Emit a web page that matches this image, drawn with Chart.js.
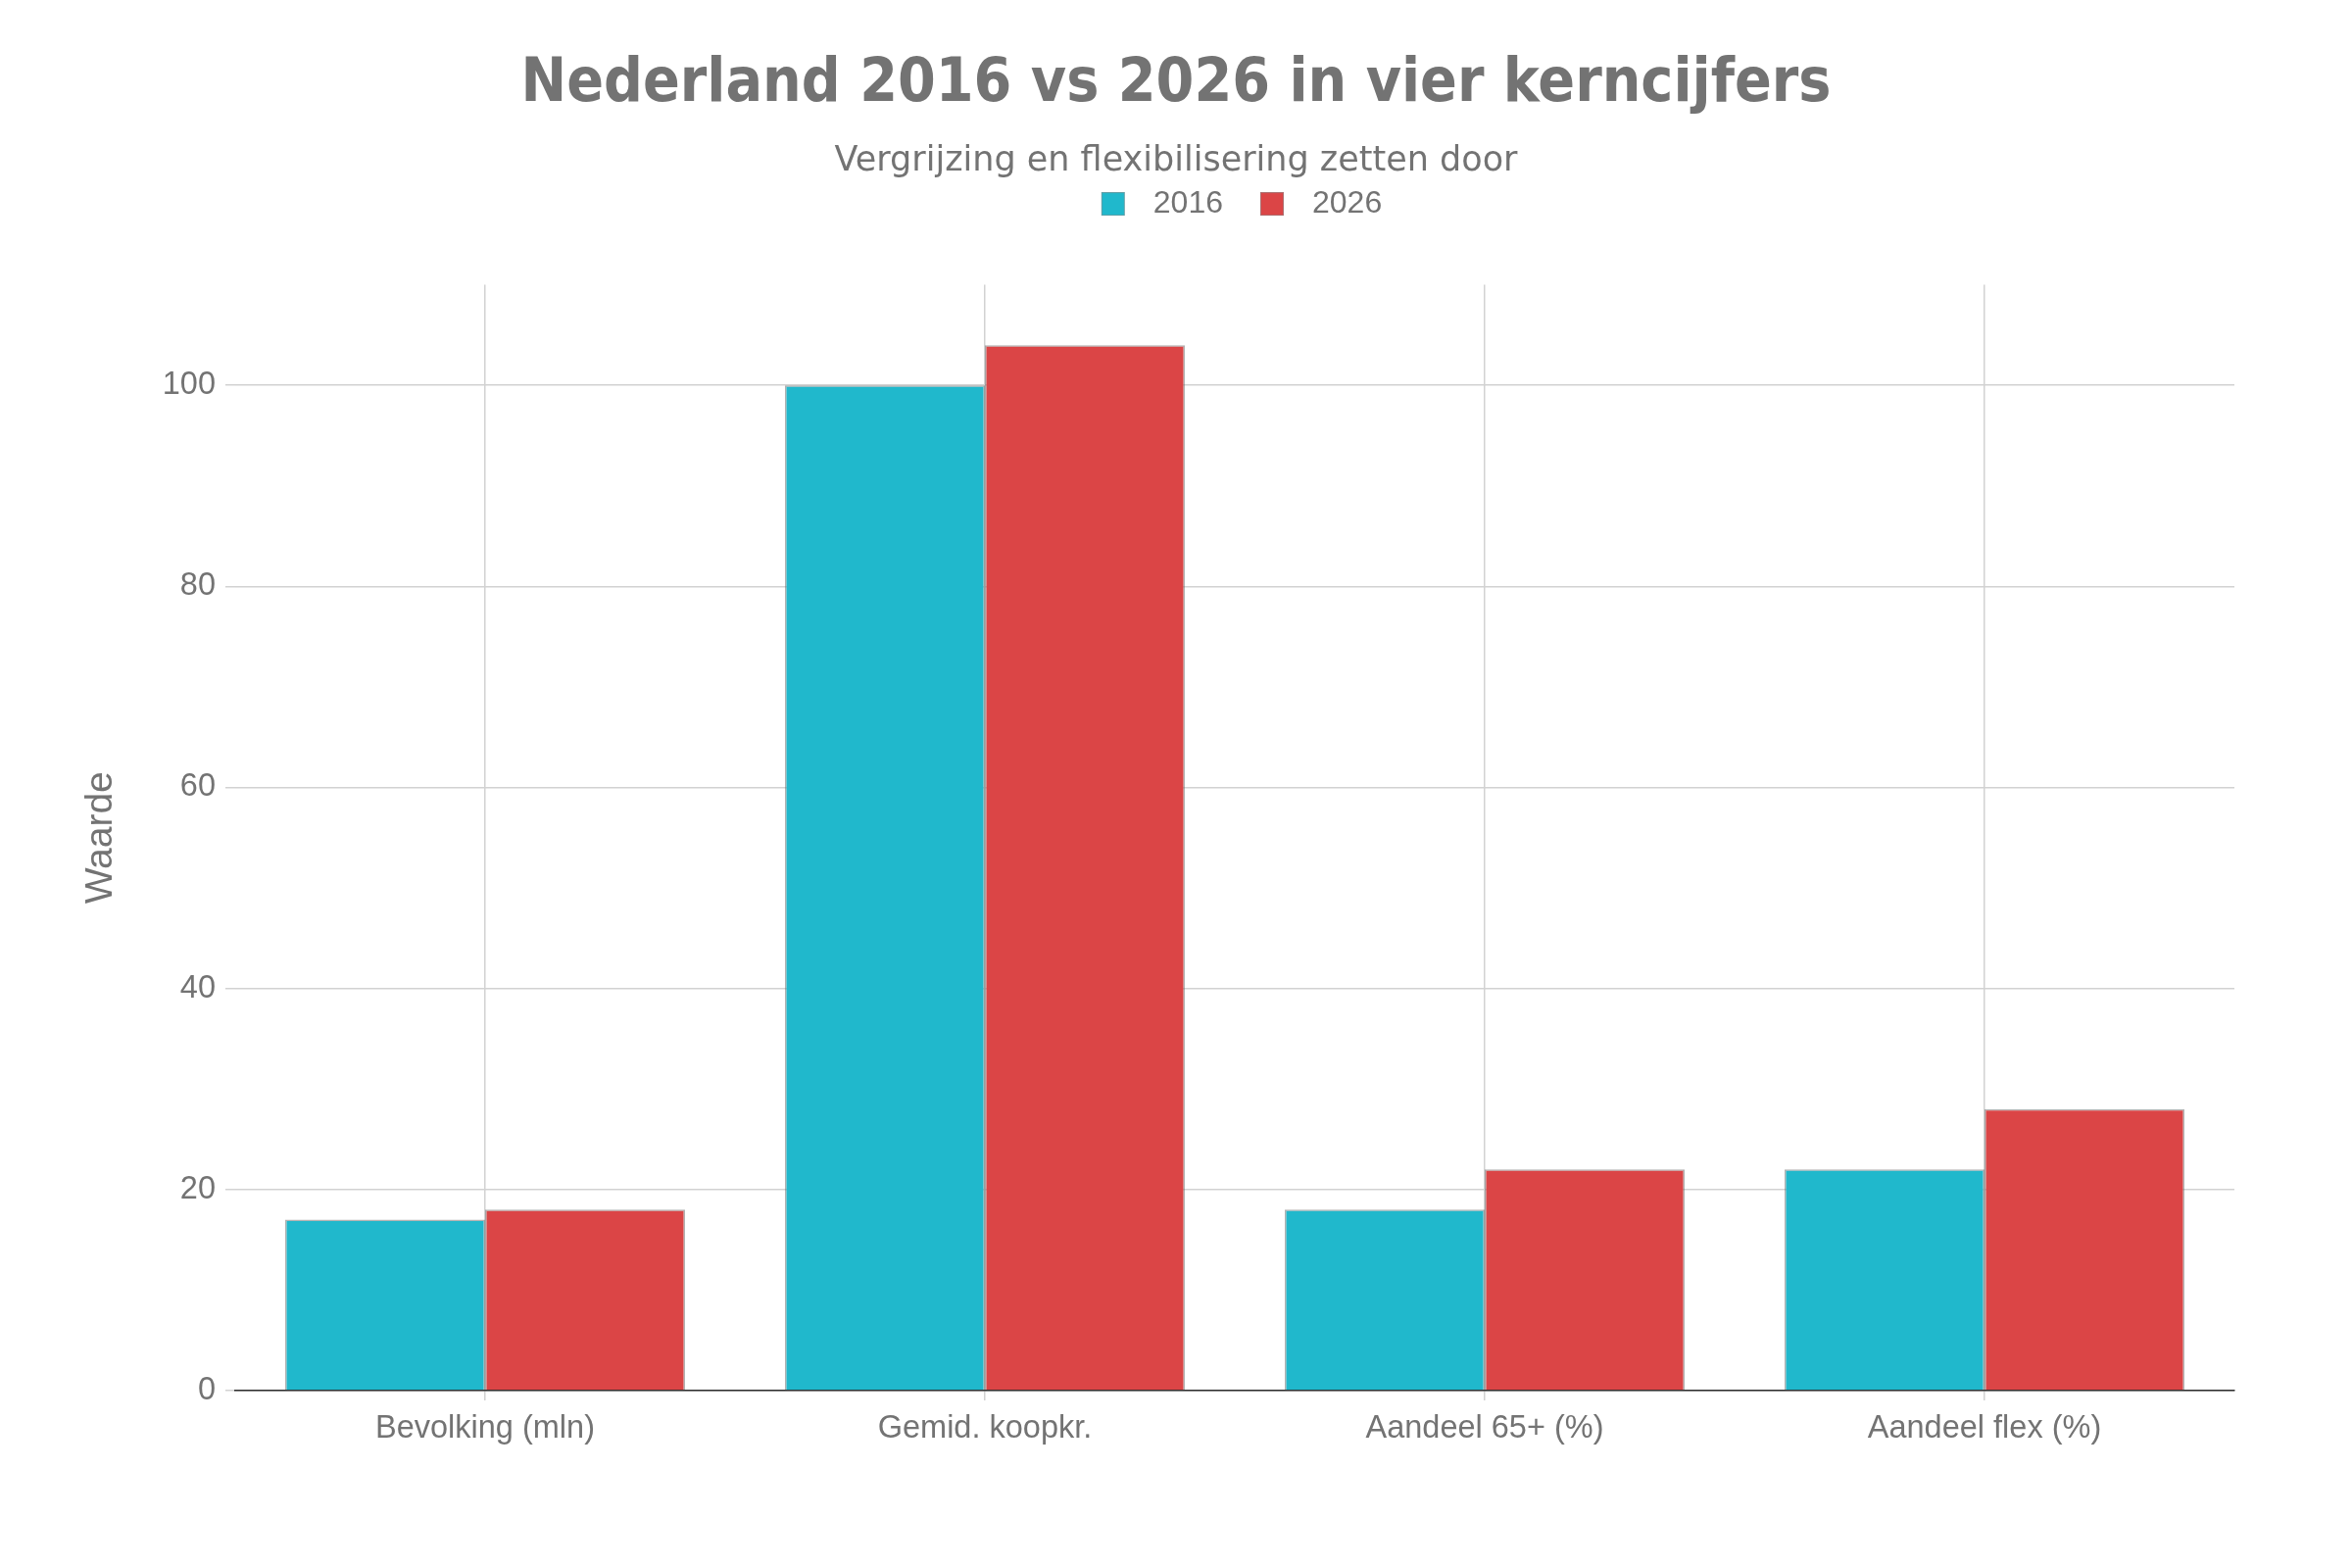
<!DOCTYPE html>
<html>
<head>
<meta charset="utf-8">
<script src="https://cdn.jsdelivr.net/npm/chart.js@4.4.1/dist/chart.umd.min.js"></script>
<style>
  html, body { margin: 0; padding: 0; background: #fff; }
  #wrap { width: 2400px; height: 1600px; }
</style>
</head>
<body>
<div id="wrap"><canvas id="kerncijfers"></canvas></div>
<script>
// Data
const categories = ['Bevolking (mln)', 'Gemid. koopkr.', 'Aandeel 65+ (%)', 'Aandeel flex (%)'];
const seriesNames = ['2016', '2026'];
const values2016 = [17, 100, 18, 22];
const values2026 = [18, 104, 22, 28];
const yMax = 110;
const yStep = 20;

const colors = ['#20b8cc', '#db4546'];
const edge = 'rgba(100, 100, 100, 0.5)';
const textGrey = '#737373';
const sansFont = '"Liberation Sans", Arial, sans-serif';

// legend swatch with some blank room before and after the square
function makeSwatch(fill) {
    const c = document.createElement('canvas');
    c.width = 51;
    c.height = 24;
    const g = c.getContext('2d');
    g.fillStyle = fill;
    g.fillRect(14, 0, 24, 24);
    g.strokeStyle = 'rgba(140, 140, 140, 0.6)';
    g.lineWidth = 1;
    g.strokeRect(14.5, 0.5, 23, 23);
    return c;
}
const swatches = colors.map(makeSwatch);

// extra room below the legend, before the plot area starts
const legendGap = {
    id: 'legendGap',
    afterInit(chart) {
        const fit = chart.legend.fit;
        chart.legend.fit = function () {
            fit.call(this);
            this.height += 56.5;
        };
    }
};

// titles centred on the canvas, legend centred on the plot area
const centring = {
    id: 'centring',
    afterLayout(chart) {
        chart.boxes.forEach(box => {
            if (box === chart.legend) {
                box.left = chart.chartArea.left;
                box.right = chart.chartArea.right;
            } else if (box.position === 'top' && box.options && box.options.text) {
                box.left = 0;
                box.right = chart.width;
            }
        });
    }
};

const ctx = document.getElementById('kerncijfers').getContext('2d');

new Chart(ctx, {
    type: 'bar',
    data: {
        labels: categories,
        datasets: [{
            label: seriesNames[0],
            data: values2016,
            backgroundColor: colors[0],
            borderColor: edge,
            borderWidth: 1.5,
        }, {
            label: seriesNames[1],
            data: values2026,
            backgroundColor: colors[1],
            borderColor: edge,
            borderWidth: 1.5,
        }]
    },
    options: {
        responsive: true,
        maintainAspectRatio: false,
        devicePixelRatio: 1,
        animation: false,
        categoryPercentage: 0.8,
        barPercentage: 1.0,
        layout: {
            padding: { top: 0, left: 40, right: 120, bottom: 112 }
        },
        scales: {
            x: {
                grid: {
                    offset: false,
                    color: '#d2d2d2',
                    lineWidth: 1.5,
                    tickLength: 10,
                },
                border: { display: true, color: '#2e2e2e', width: 1.5 },
                ticks: {
                    color: textGrey,
                    padding: 10,
                    font: { family: sansFont, size: 32.5 }
                }
            },
            y: {
                min: 0,
                max: yMax,
                grid: {
                    color: '#d2d2d2',
                    lineWidth: 1.5,
                    tickLength: 10,
                },
                border: { display: false },
                ticks: {
                    stepSize: yStep,
                    includeBounds: false,
                    color: textGrey,
                    padding: 10,
                    font: { family: sansFont, size: 32.5 }
                },
                title: {
                    display: true,
                    text: 'Waarde',
                    color: textGrey,
                    padding: { top: 39.6, bottom: 0 },
                    font: { family: sansFont, size: 39 }
                },
                afterFit(scale) {
                    scale.width = 200;
                }
            }
        },
        plugins: {
            title: {
                display: true,
                text: 'Nederland 2016 vs 2026 in vier kerncijfers',
                color: textGrey,
                padding: { top: 50, bottom: 0 },
                font: { family: '"DejaVu Sans Condensed", "DejaVu Sans", sans-serif', size: 62, weight: 'bold', lineHeight: 1.2 }
            },
            subtitle: {
                display: true,
                text: 'Vergrijzing en flexibilisering zetten door',
                color: textGrey,
                padding: { top: 36.7, bottom: 0 },
                font: { family: '"DejaVu Sans", sans-serif', size: 35, lineHeight: 0.2 }
            },
            legend: {
                display: true,
                position: 'top',
                labels: {
                    color: textGrey,
                    usePointStyle: true,
                    pointStyleWidth: 51,
                    boxHeight: 24,
                    padding: 24,
                    font: { family: sansFont, size: 32 },
                    generateLabels(chart) {
                        const items = Chart.defaults.plugins.legend.labels.generateLabels(chart);
                        items.forEach((item, i) => { item.pointStyle = swatches[i]; });
                        return items;
                    }
                }
            },
            tooltip: { enabled: false }
        }
    },
    plugins: [legendGap, centring]
});
</script>
</body>
</html>
